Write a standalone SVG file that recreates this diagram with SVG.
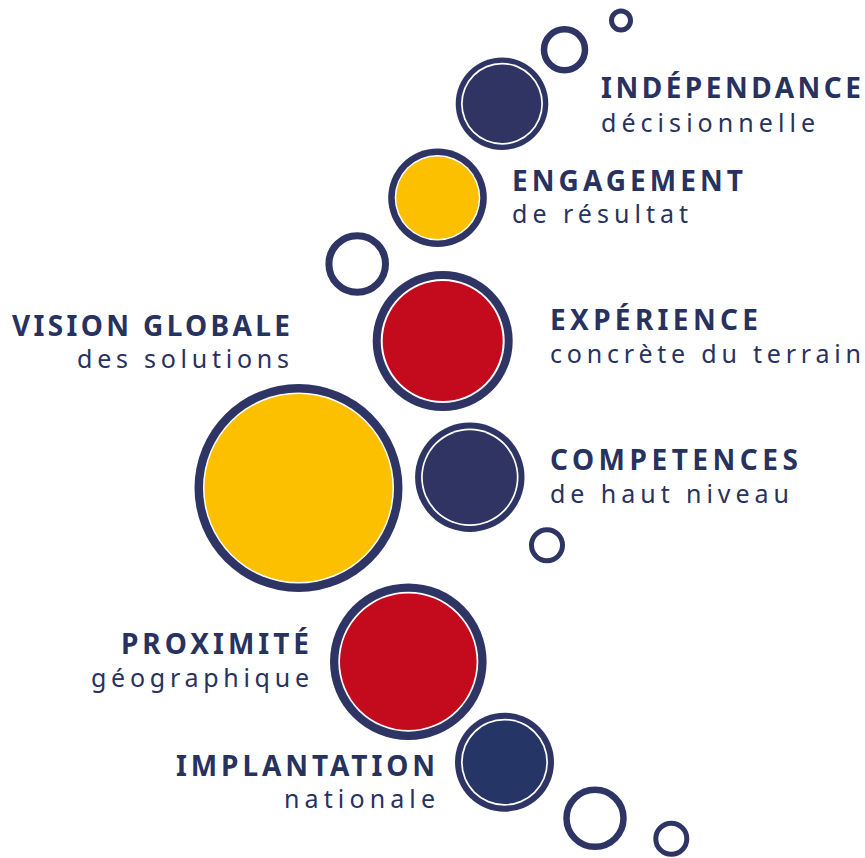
<svg xmlns="http://www.w3.org/2000/svg" width="865" height="858" viewBox="0 0 865 858">
<style>
.ring{fill:#2e3464}
.gap{fill:#ffffff}
.navy{fill:#2f3462}
.navy2{fill:#253566}
.yellow{fill:#fdc000}
.red{fill:#c30b1d}
.hollow{fill:none;stroke:#2e3464}
.t{fill:#27325f;font-family:"Noto Sans","Open Sans","DejaVu Sans",sans-serif}
.b{font-weight:700;font-size:28px}
.r{font-weight:400;font-size:25px}
</style>
<rect width="865" height="858" fill="#ffffff"/>
<g id="bubbles">
<circle class="hollow" cx="621" cy="20.5" r="9.5" stroke-width="5"/>
<circle class="hollow" cx="564.5" cy="49.7" r="20.5" stroke-width="6.5"/>
<circle class="hollow" cx="357.2" cy="264" r="28.3" stroke-width="7"/>
<circle class="hollow" cx="547" cy="545.3" r="15.5" stroke-width="5"/>
<circle class="hollow" cx="595" cy="818.3" r="28.5" stroke-width="6.5"/>
<circle class="hollow" cx="671.3" cy="838.7" r="15.5" stroke-width="5"/>
</g>
<g id="independance">
<circle class="ring" cx="502" cy="103.7" r="46.3"/>
<circle class="gap" cx="502" cy="103.7" r="41"/>
<circle class="navy" cx="502" cy="103.7" r="39.3"/>
<text class="t b" x="601" y="98.3" textLength="260" lengthAdjust="spacing">INDÉPENDANCE</text>
<text class="t r" x="601" y="131.7" textLength="214" lengthAdjust="spacing">décisionnelle</text>
</g>
<g id="engagement">
<circle class="ring" cx="437.5" cy="197.8" r="49.3"/>
<circle class="gap" cx="437.5" cy="197.8" r="42.8"/>
<circle class="yellow" cx="437.5" cy="197.8" r="41.3"/>
<text class="t b" x="512" y="190.7" textLength="231" lengthAdjust="spacing">ENGAGEMENT</text>
<text class="t r" x="512" y="222.7" textLength="176" lengthAdjust="spacing">de résultat</text>
</g>
<g id="experience">
<circle class="ring" cx="442.7" cy="341" r="70"/>
<circle class="gap" cx="442.7" cy="341" r="62"/>
<circle class="red" cx="442.7" cy="341" r="60"/>
<text class="t b" x="550" y="330" textLength="208" lengthAdjust="spacing">EXPÉRIENCE</text>
<text class="t r" x="550" y="363.3" textLength="311" lengthAdjust="spacing">concrète du terrain</text>
</g>
<g id="vision">
<circle class="ring" cx="298.5" cy="488" r="104"/>
<circle class="gap" cx="298.5" cy="488" r="95.5"/>
<circle class="yellow" cx="298.5" cy="488" r="94"/>
<text class="t b" x="12" y="336" textLength="278" lengthAdjust="spacing">VISION GLOBALE</text>
<text class="t r" x="77" y="368.3" textLength="212" lengthAdjust="spacing">des solutions</text>
</g>
<g id="competences">
<circle class="ring" cx="469.8" cy="477.3" r="54.7"/>
<circle class="gap" cx="469.8" cy="477.3" r="48.7"/>
<circle class="navy" cx="469.8" cy="477.3" r="47"/>
<text class="t b" x="550" y="470" textLength="248" lengthAdjust="spacing">COMPETENCES</text>
<text class="t r" x="550" y="503.3" textLength="239" lengthAdjust="spacing">de haut niveau</text>
</g>
<g id="proximite">
<circle class="ring" cx="408.3" cy="661.7" r="78.3"/>
<circle class="gap" cx="408.3" cy="661.7" r="70"/>
<circle class="red" cx="408.3" cy="661.7" r="68.3"/>
<text class="t b" x="121" y="654" textLength="188" lengthAdjust="spacing">PROXIMITÉ</text>
<text class="t r" x="91" y="686.5" textLength="218" lengthAdjust="spacing">géographique</text>
</g>
<g id="implantation">
<circle class="ring" cx="504.5" cy="762.2" r="49.5"/>
<circle class="gap" cx="504.5" cy="762.2" r="43.5"/>
<circle class="navy2" cx="504.5" cy="762.2" r="41.8"/>
<text class="t b" x="176" y="775.7" textLength="259" lengthAdjust="spacing">IMPLANTATION</text>
<text class="t r" x="284" y="808" textLength="151" lengthAdjust="spacing">nationale</text>
</g>
<g id="connectors"></g>
</svg>
